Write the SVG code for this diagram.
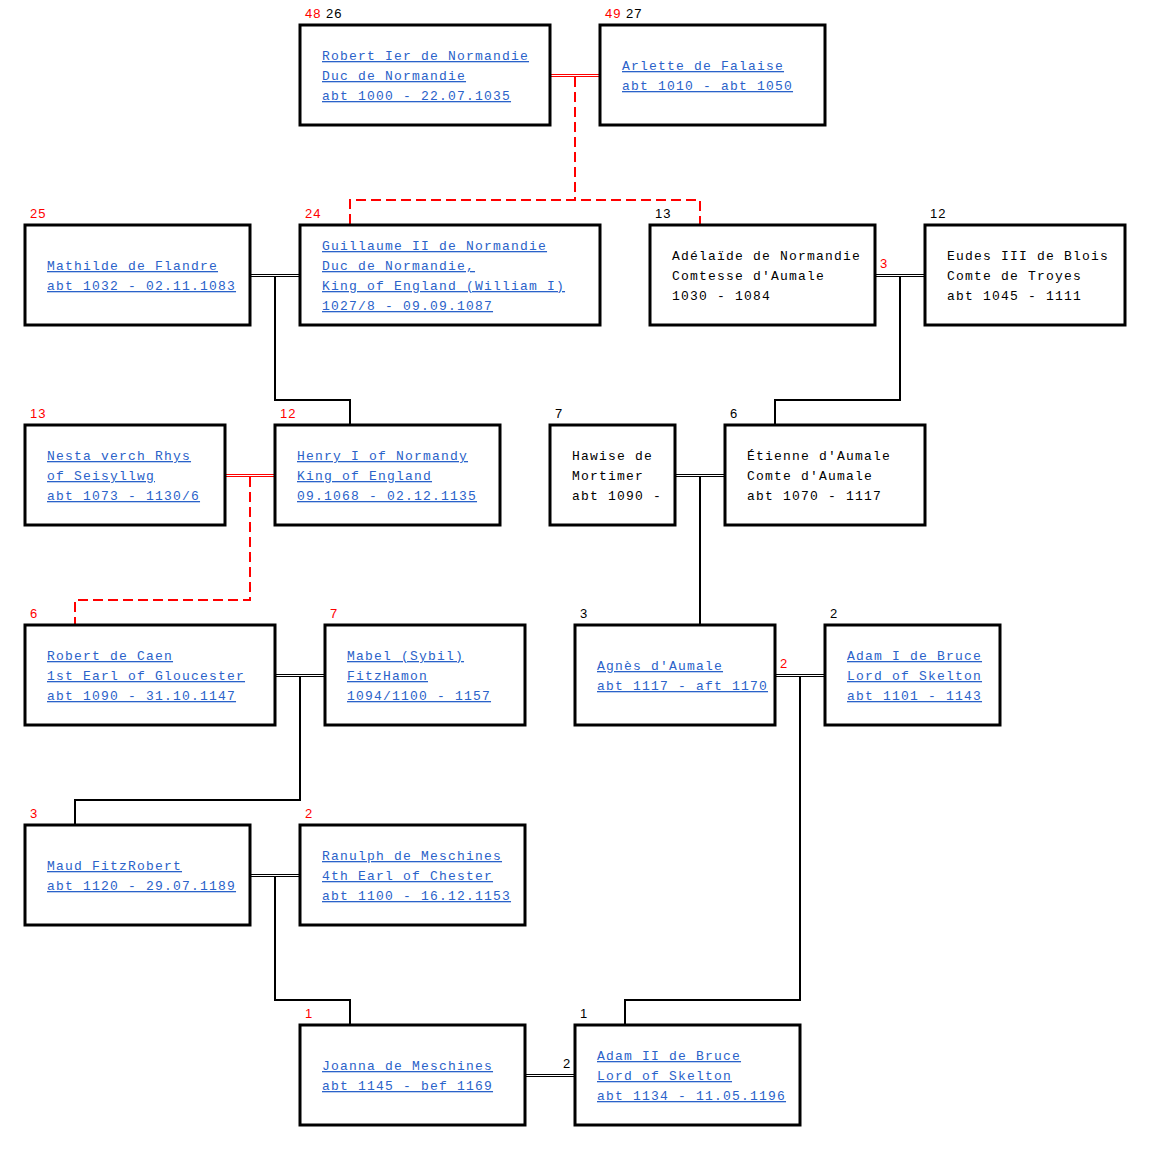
<svg xmlns="http://www.w3.org/2000/svg" width="1151" height="1151" viewBox="0 0 1151 1151">
<style>
.bg{fill:#fff}
.box{fill:#fff;stroke:#000;stroke-width:3}
.t{font-family:"Liberation Mono","Courier New",monospace;font-size:13px;letter-spacing:1.2px}
.lk{fill:#2a62c9;text-decoration:underline}
.pl{fill:#000}
.n{font-family:"Liberation Sans",Arial,sans-serif;font-size:13px;letter-spacing:1px;fill:#000}
.r{fill:#f00}
.dr{stroke:#f00;stroke-width:1;fill:none}
.db{stroke:#000;stroke-width:1;fill:none}
.ch{stroke:#000;stroke-width:2;fill:none}
.cr{stroke:#f00;stroke-width:2;stroke-dasharray:10 5;fill:none}
</style>
<rect class="bg" x="0" y="0" width="1151" height="1151"/>
<g id="connectors">
<path class="dr" d="M551 74.5H599M551 76.5H599"/>
<path class="cr" d="M575 77V200M350 224V200H700V224"/>
<path class="db" d="M251 274.5H299M251 276.5H299"/>
<path class="ch" d="M275 277V400H350V424"/>
<path class="db" d="M876 274.5H924M876 276.5H924"/>
<path class="ch" d="M900 277V400H775V424"/>
<path class="dr" d="M226 474.5H274M226 476.5H274"/>
<path class="cr" d="M250 477V600H75V624"/>
<path class="db" d="M676 474.5H724M676 476.5H724"/>
<path class="ch" d="M700 477V624"/>
<path class="db" d="M276 674.5H324M276 676.5H324"/>
<path class="ch" d="M300 677V800H75V824"/>
<path class="db" d="M776 674.5H824M776 676.5H824"/>
<path class="ch" d="M800 677V1000H625V1024"/>
<path class="db" d="M251 874.5H299M251 876.5H299"/>
<path class="ch" d="M275 877V1000H350V1024"/>
<path class="db" d="M526 1074.5H574M526 1076.5H574"/>
<text class="n r" x="880" y="268">3</text>
<text class="n r" x="780" y="668">2</text>
<text class="n" x="563" y="1068">2</text>
</g>
<g id="n48">
<rect class="box" x="300" y="25" width="250" height="100"/>
<text class="n" x="305" y="18"><tspan class="r">48</tspan> 26</text>
<text class="t lk" x="322" y="60">Robert Ier de Normandie</text>
<text class="t lk" x="322" y="80">Duc de Normandie</text>
<text class="t lk" x="322" y="100">abt 1000 - 22.07.1035</text>
</g>
<g id="n49">
<rect class="box" x="600" y="25" width="225" height="100"/>
<text class="n" x="605" y="18"><tspan class="r">49</tspan> 27</text>
<text class="t lk" x="622" y="70">Arlette de Falaise</text>
<text class="t lk" x="622" y="90">abt 1010 - abt 1050</text>
</g>
<g id="n25">
<rect class="box" x="25" y="225" width="225" height="100"/>
<text class="n r" x="30" y="218">25</text>
<text class="t lk" x="47" y="270">Mathilde de Flandre</text>
<text class="t lk" x="47" y="290">abt 1032 - 02.11.1083</text>
</g>
<g id="n24">
<rect class="box" x="300" y="225" width="300" height="100"/>
<text class="n r" x="305" y="218">24</text>
<text class="t lk" x="322" y="250">Guillaume II de Normandie</text>
<text class="t lk" x="322" y="270">Duc de Normandie,</text>
<text class="t lk" x="322" y="290">King of England (William I)</text>
<text class="t lk" x="322" y="310">1027/8 - 09.09.1087</text>
</g>
<g id="n13a">
<rect class="box" x="650" y="225" width="225" height="100"/>
<text class="n" x="655" y="218">13</text>
<text class="t pl" x="672" y="260">Adélaïde de Normandie</text>
<text class="t pl" x="672" y="280">Comtesse d'Aumale</text>
<text class="t pl" x="672" y="300">1030 - 1084</text>
</g>
<g id="n12a">
<rect class="box" x="925" y="225" width="200" height="100"/>
<text class="n" x="930" y="218">12</text>
<text class="t pl" x="947" y="260">Eudes III de Blois</text>
<text class="t pl" x="947" y="280">Comte de Troyes</text>
<text class="t pl" x="947" y="300">abt 1045 - 1111</text>
</g>
<g id="n13">
<rect class="box" x="25" y="425" width="200" height="100"/>
<text class="n r" x="30" y="418">13</text>
<text class="t lk" x="47" y="460">Nesta verch Rhys</text>
<text class="t lk" x="47" y="480">of Seisyllwg</text>
<text class="t lk" x="47" y="500">abt 1073 - 1130/6</text>
</g>
<g id="n12">
<rect class="box" x="275" y="425" width="225" height="100"/>
<text class="n r" x="280" y="418">12</text>
<text class="t lk" x="297" y="460">Henry I of Normandy</text>
<text class="t lk" x="297" y="480">King of England</text>
<text class="t lk" x="297" y="500">09.1068 - 02.12.1135</text>
</g>
<g id="n7a">
<rect class="box" x="550" y="425" width="125" height="100"/>
<text class="n" x="555" y="418">7</text>
<text class="t pl" x="572" y="460">Hawise de</text>
<text class="t pl" x="572" y="480">Mortimer</text>
<text class="t pl" x="572" y="500">abt 1090 -</text>
</g>
<g id="n6a">
<rect class="box" x="725" y="425" width="200" height="100"/>
<text class="n" x="730" y="418">6</text>
<text class="t pl" x="747" y="460">Étienne d'Aumale</text>
<text class="t pl" x="747" y="480">Comte d'Aumale</text>
<text class="t pl" x="747" y="500">abt 1070 - 1117</text>
</g>
<g id="n6">
<rect class="box" x="25" y="625" width="250" height="100"/>
<text class="n r" x="30" y="618">6</text>
<text class="t lk" x="47" y="660">Robert de Caen</text>
<text class="t lk" x="47" y="680">1st Earl of Gloucester</text>
<text class="t lk" x="47" y="700">abt 1090 - 31.10.1147</text>
</g>
<g id="n7">
<rect class="box" x="325" y="625" width="200" height="100"/>
<text class="n r" x="330" y="618">7</text>
<text class="t lk" x="347" y="660">Mabel (Sybil)</text>
<text class="t lk" x="347" y="680">FitzHamon</text>
<text class="t lk" x="347" y="700">1094/1100 - 1157</text>
</g>
<g id="n3a">
<rect class="box" x="575" y="625" width="200" height="100"/>
<text class="n" x="580" y="618">3</text>
<text class="t lk" x="597" y="670">Agnès d'Aumale</text>
<text class="t lk" x="597" y="690">abt 1117 - aft 1170</text>
</g>
<g id="n2a">
<rect class="box" x="825" y="625" width="175" height="100"/>
<text class="n" x="830" y="618">2</text>
<text class="t lk" x="847" y="660">Adam I de Bruce</text>
<text class="t lk" x="847" y="680">Lord of Skelton</text>
<text class="t lk" x="847" y="700">abt 1101 - 1143</text>
</g>
<g id="n3">
<rect class="box" x="25" y="825" width="225" height="100"/>
<text class="n r" x="30" y="818">3</text>
<text class="t lk" x="47" y="870">Maud FitzRobert</text>
<text class="t lk" x="47" y="890">abt 1120 - 29.07.1189</text>
</g>
<g id="n2">
<rect class="box" x="300" y="825" width="225" height="100"/>
<text class="n r" x="305" y="818">2</text>
<text class="t lk" x="322" y="860">Ranulph de Meschines</text>
<text class="t lk" x="322" y="880">4th Earl of Chester</text>
<text class="t lk" x="322" y="900">abt 1100 - 16.12.1153</text>
</g>
<g id="n1">
<rect class="box" x="300" y="1025" width="225" height="100"/>
<text class="n r" x="305" y="1018">1</text>
<text class="t lk" x="322" y="1070">Joanna de Meschines</text>
<text class="t lk" x="322" y="1090">abt 1145 - bef 1169</text>
</g>
<g id="n1a">
<rect class="box" x="575" y="1025" width="225" height="100"/>
<text class="n" x="580" y="1018">1</text>
<text class="t lk" x="597" y="1060">Adam II de Bruce</text>
<text class="t lk" x="597" y="1080">Lord of Skelton</text>
<text class="t lk" x="597" y="1100">abt 1134 - 11.05.1196</text>
</g>
</svg>
